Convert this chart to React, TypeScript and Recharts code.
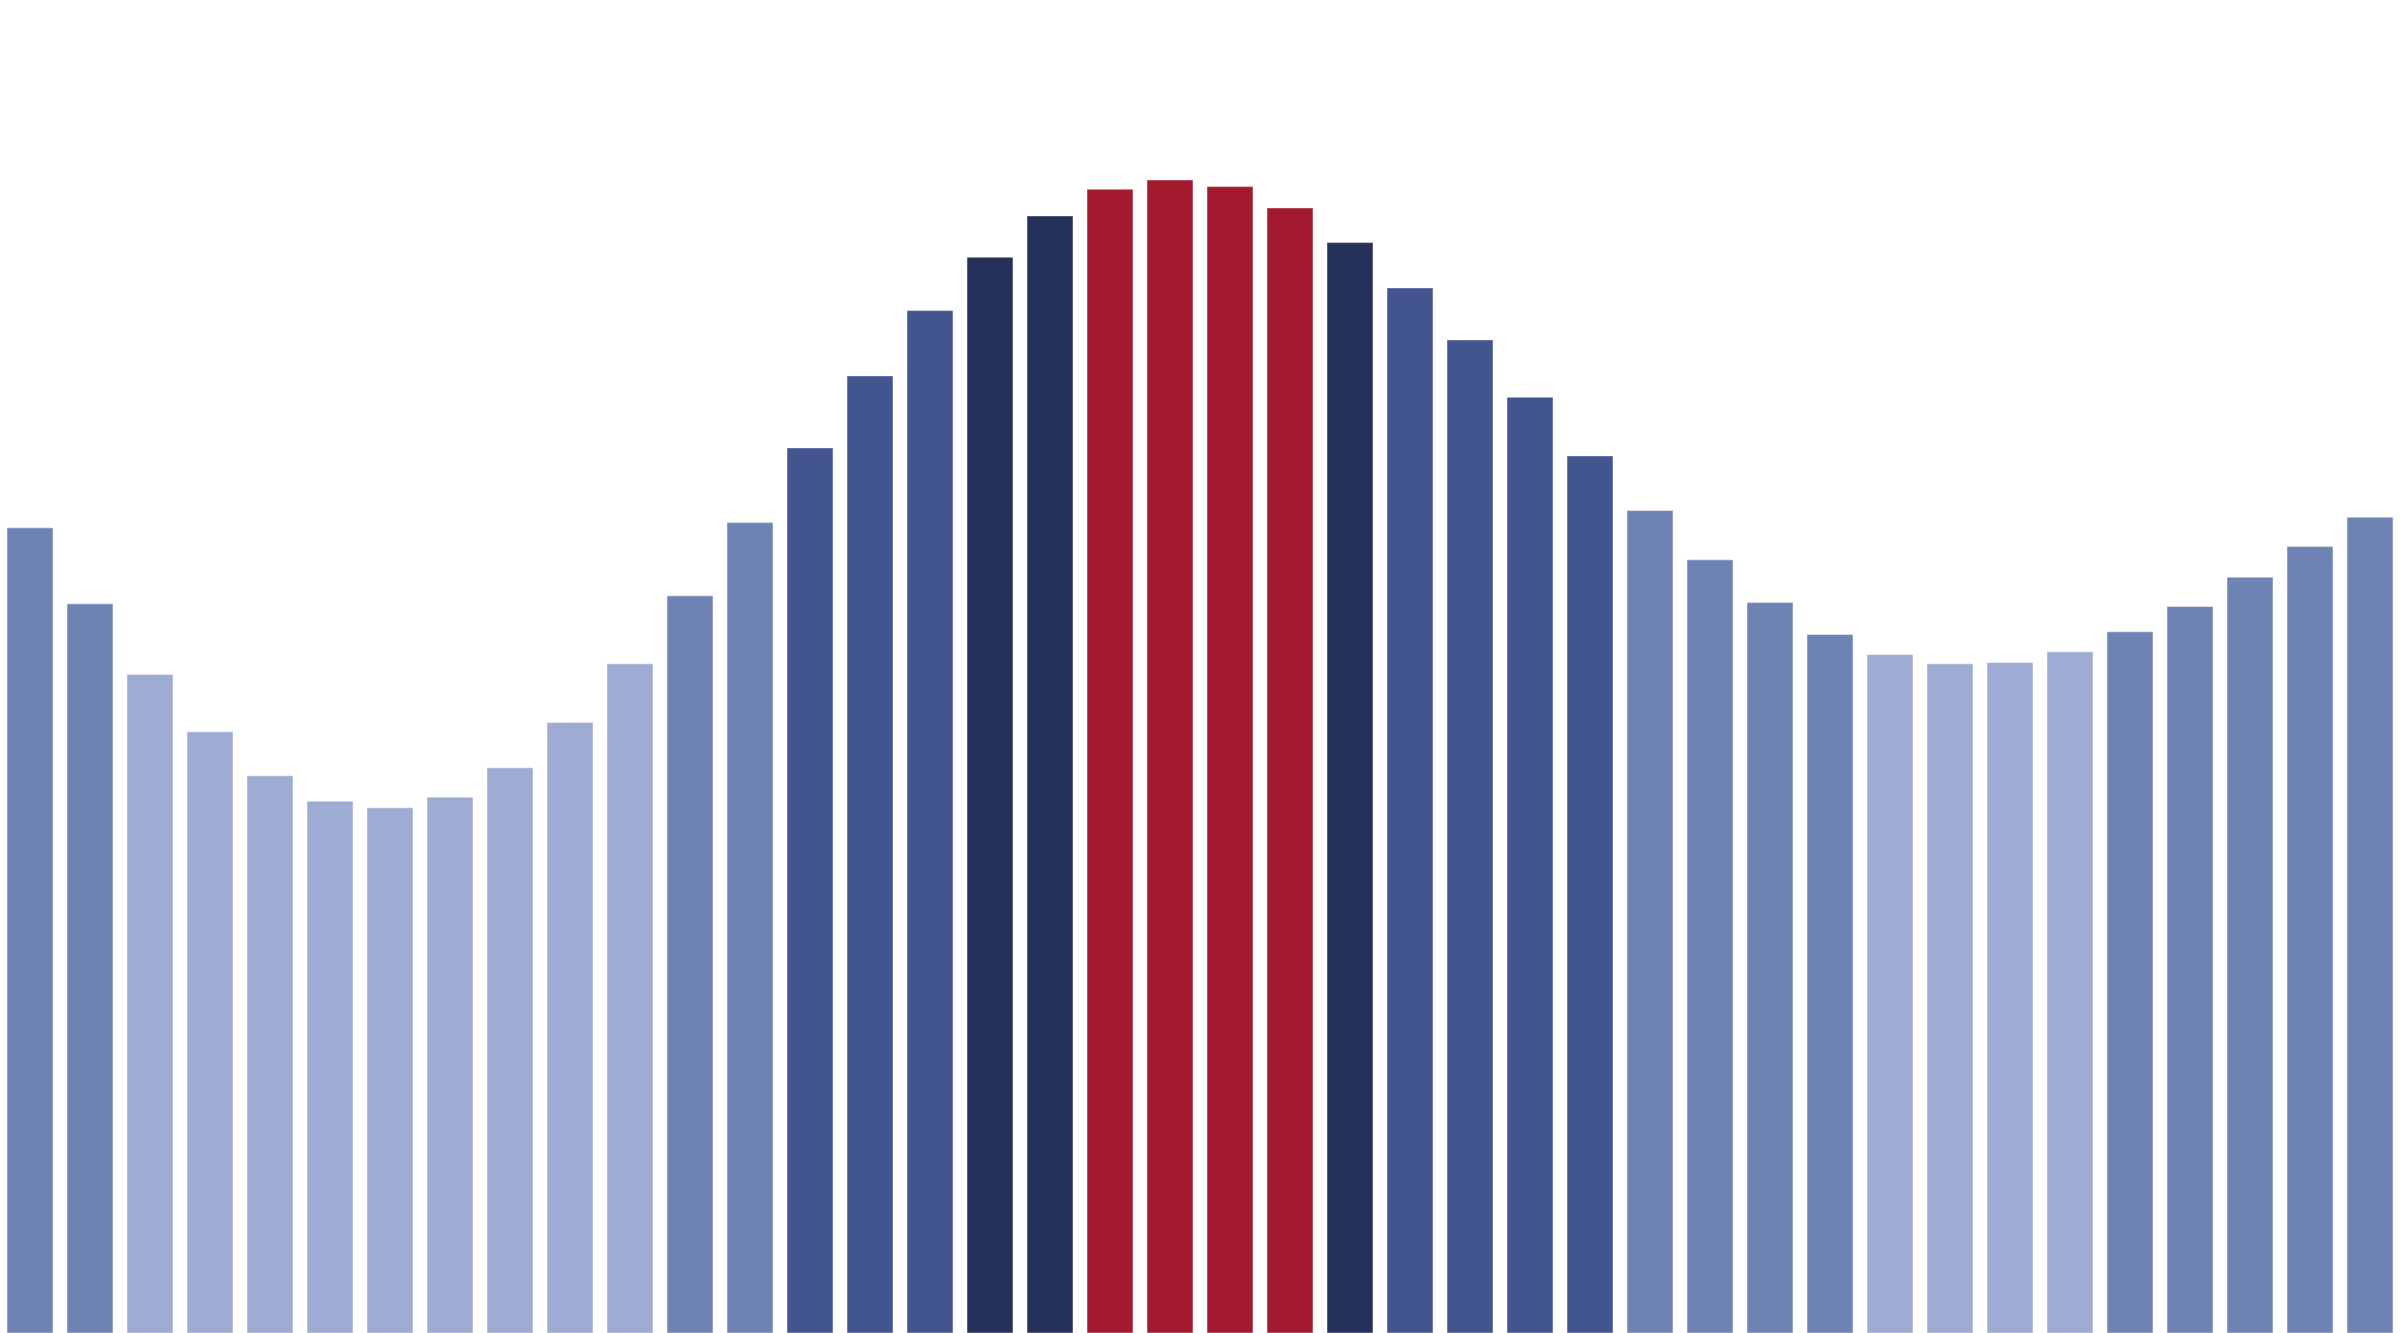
import { BarChart, Bar, XAxis, YAxis, Cell } from "recharts";

// 40 periods, values (0–100 scale)
const periods = Array.from({ length: 40 }, (_, i) => `P${i + 1}`);

const values = [
  60.4, 54.7, 49.4, 45.1, 41.8, 39.9, 39.4, 40.2, 42.4, 45.8,
  50.2, 55.3, 60.8, 66.4, 71.8, 76.7, 80.7, 83.8, 85.8, 86.5,
  86.0, 84.4, 81.8, 78.4, 74.5, 70.2, 65.8, 61.7, 58.0, 54.8,
  52.4, 50.9, 50.2, 50.3, 51.1, 52.6, 54.5, 56.7, 59.0, 61.2,
];

// colour bins: upper bound of each bin and its fill
const binLimits = [52, 63, 80, 84];
const binColors = ["#9eacd4", "#6f84b5", "#43558f", "#26315b", "#a3192f"];

function colorFor(v: number) {
  const idx = binLimits.findIndex((limit) => v < limit);
  return binColors[idx === -1 ? binColors.length - 1 : idx];
}

export default function App() {
  const data = periods.map((name, i) => ({ name, value: values[i] }));

  return (
    <div style={{ position: "absolute", left: 0, top: 0, width: 2400, height: 1333 }}>
      <BarChart
        width={2400}
        height={1333}
        data={data}
        margin={{ top: 0, right: 0, left: 0, bottom: 0 }}
        barCategoryGap={7}
      >
        <XAxis dataKey="name" hide />
        <YAxis domain={[0, 100]} hide />
        <Bar
          dataKey="value"
          isAnimationActive={false}
          stroke="#ffffff"
          strokeOpacity={0.45}
          strokeWidth={1}
        >
          {data.map((d) => (
            <Cell key={d.name} fill={colorFor(d.value)} />
          ))}
        </Bar>
      </BarChart>
    </div>
  );
}
